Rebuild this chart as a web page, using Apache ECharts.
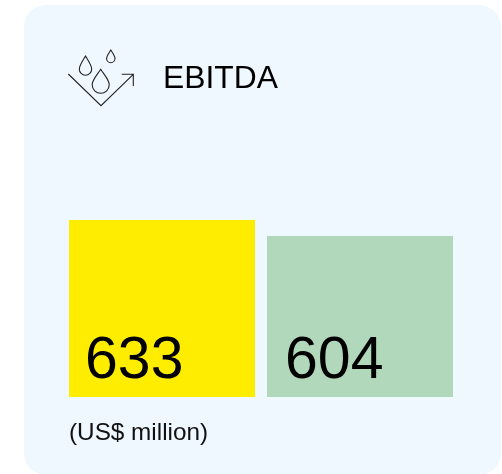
<!DOCTYPE html>
<html>
<head>
<meta charset="utf-8">
<style>html,body{margin:0;padding:0;background:#fff}#c{width:502px;height:474px}</style>
<script src="https://cdn.jsdelivr.net/npm/echarts@6/dist/echarts.min.js"></script>
</head>
<body>
<div id="c"></div>
<script>
const categories = ['A', 'B'];
const values = [633, 604];
const barColors = ['#FFED00', '#B2D8BC'];
const labelOffsets = [[11, -1], [13, -1]];
const titleText = 'EBITDA';
const unitText = '(US$ million)';
const font = '"Liberation Sans", Arial, sans-serif';
const iconStyle = { fill: 'none', stroke: '#222', lineWidth: 1.1 };
const drop = (cx, top, r, bottom) =>
  `M${cx} ${top}C${cx - r * 0.35} ${top + (bottom - top) * 0.2} ${cx - r} ${bottom - r * 1.6} ${cx - r} ${bottom - r}` +
  `A${r} ${r} 0 0 0 ${cx + r} ${bottom - r}C${cx + r} ${bottom - r * 1.6} ${cx + r * 0.35} ${top + (bottom - top) * 0.2} ${cx} ${top}Z`;

const iconPaths = [
  'M68.3 74L101 105.7L133.3 74.3M121.7 74.3L133.3 74.3L133.3 86',
  drop(100.7, 69.3, 8.5, 93.3),
  drop(85.5, 56, 6.2, 75.3),
  drop(110.8, 50, 4.2, 62.7)
];
iconPaths.forEach((d, i) => {
  echarts.graphic.registerShape('icon' + i, echarts.graphic.extendPath(d, {}));
});

const chart = echarts.init(document.getElementById('c'), null, { renderer: 'canvas' });
chart.setOption({
  animation: false,
  backgroundColor: '#ffffff',
  grid: { left: 63, top: 220, width: 396, height: 177 },
  xAxis: { type: 'category', data: categories, show: false },
  yAxis: { type: 'value', min: 312, max: 633, show: false },
  graphic: [
    { type: 'rect', z: -10, shape: { x: 24, y: 5, width: 477, height: 470, r: 22 }, style: { fill: '#F0F8FF' } },
    ...iconPaths.map((d, i) => ({ type: 'icon' + i, style: iconStyle })),
    { type: 'text', left: 163, top: 63, style: { text: titleText, font: '31.8px ' + font, fill: '#000' } },
    { type: 'text', left: 69, top: 421, style: { text: unitText, font: '24.3px ' + font, fill: '#111' } }
  ],
  series: [{
    type: 'bar',
    barWidth: 186,
    data: values.map((v, i) => ({
      value: v,
      itemStyle: { color: barColors[i] },
      label: {
        show: true,
        position: 'insideBottomLeft',
        offset: labelOffsets[i],
        formatter: '{c}',
        fontFamily: font,
        fontSize: 59,
        color: '#000'
      }
    }))
  }]
});
</script>
</body>
</html>
